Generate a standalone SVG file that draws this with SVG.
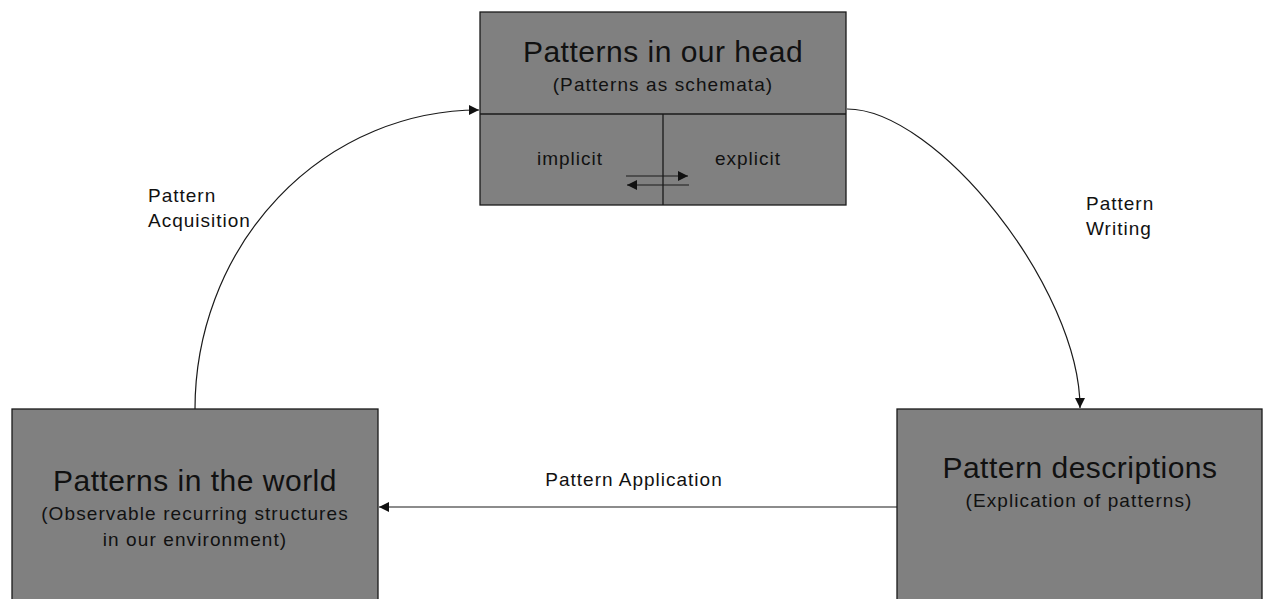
<svg xmlns="http://www.w3.org/2000/svg" width="1263" height="599" viewBox="0 0 1263 599">
<style>
.box{fill:#808080;stroke:#1a1a1a;stroke-width:1.3}
.div{stroke:#1a1a1a;stroke-width:1.3;fill:none}
.conn{fill:none;stroke:#1a1a1a;stroke-width:1.2}
text{font-family:"Liberation Sans",Arial,sans-serif;fill:#111}
.title{font-size:30px;letter-spacing:0.5px;text-anchor:middle}
.sub{font-size:19px;letter-spacing:1.1px;text-anchor:middle}
.lbl{font-size:19px;letter-spacing:1px}
.mid{text-anchor:middle}
</style>
<defs>
<marker id="ah" viewBox="0 0 10 10" refX="10" refY="5" markerWidth="12" markerHeight="10" markerUnits="userSpaceOnUse" orient="auto">
<path d="M0,0 L10,5 L0,10 Z" fill="#111"/>
</marker>
</defs>
<g id="connectors">
<path class="conn" d="M195,409 A284,299 0 0 1 479,110" marker-end="url(#ah)"/>
<path class="conn" d="M847,109 C937,109 1080,289 1080,408" marker-end="url(#ah)"/>
<path class="conn" d="M897,507 L379,507" marker-end="url(#ah)"/>
<text class="lbl" x="148" y="202">Pattern</text>
<text class="lbl" x="148" y="227">Acquisition</text>
<text class="lbl" x="1086" y="210">Pattern</text>
<text class="lbl" x="1086" y="235">Writing</text>
<text class="lbl mid" x="634" y="486">Pattern Application</text>
</g>
<g id="head">
<rect class="box" x="480" y="12" width="366" height="193"/>
<line class="div" x1="480" y1="114" x2="846" y2="114"/>
<line class="div" x1="663" y1="114" x2="663" y2="205"/>
<text class="title" x="663" y="62">Patterns in our head</text>
<text class="sub" x="663" y="91">(Patterns as schemata)</text>
<text class="lbl mid" x="570" y="165">implicit</text>
<text class="lbl mid" x="748" y="165">explicit</text>
<line class="conn" x1="626" y1="176" x2="688" y2="176" marker-end="url(#ah)"/>
<line class="conn" x1="689" y1="185" x2="627" y2="185" marker-end="url(#ah)"/>
</g>
<g id="world">
<rect class="box" x="12" y="409" width="366" height="200"/>
<text class="title" x="195" y="491">Patterns in the world</text>
<text class="sub" x="195" y="520">(Observable recurring structures</text>
<text class="sub" x="195" y="546">in our environment)</text>
</g>
<g id="descriptions">
<rect class="box" x="897" y="409" width="365" height="200"/>
<text class="title" x="1080" y="478">Pattern descriptions</text>
<text class="sub" x="1079" y="507">(Explication of patterns)</text>
</g>
</svg>
